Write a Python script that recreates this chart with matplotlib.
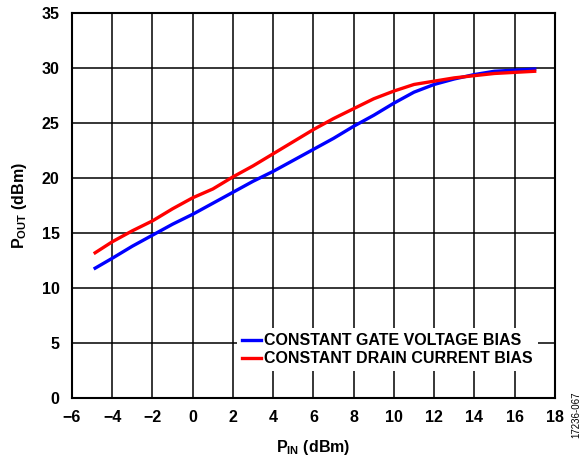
import numpy as np
import matplotlib
import matplotlib.pyplot as plt

matplotlib.use('Agg')

plt.rcParams['font.family'] = ['Liberation Sans', 'DejaVu Sans']
plt.rcParams['font.weight'] = 'bold'
plt.rcParams['mathtext.fontset'] = 'custom'
plt.rcParams['mathtext.rm'] = 'Liberation Sans:bold'
plt.rcParams['mathtext.bf'] = 'Liberation Sans:bold'
plt.rcParams['mathtext.it'] = 'Liberation Sans:bold'

# PIN (dBm) sweep points
pin = [-4.85, -4, -3, -2, -1, 0, 1, 2, 3, 4, 5, 6, 7, 8, 9, 10, 11, 12, 13, 14, 15, 16, 17]
# POUT for constant gate voltage bias
pout_gate = [11.8, 12.7, 13.8, 14.8, 15.8, 16.7, 17.7, 18.7, 19.7, 20.6, 21.6, 22.6, 23.6, 24.7, 25.7,
             26.8, 27.8, 28.5, 29.0, 29.4, 29.7, 29.8, 29.9]
# POUT for constant drain current bias
pout_drain = [13.2, 14.2, 15.2, 16.1, 17.2, 18.2, 19.0, 20.1, 21.1, 22.2, 23.3, 24.4, 25.4, 26.3, 27.2,
              27.9, 28.5, 28.8, 29.1, 29.3, 29.5, 29.6, 29.7]

fig = plt.figure(figsize=(5.84, 4.63), dpi=100)
ax = fig.add_axes([0.1233, 0.1404, 0.8267, 0.8316])

ax.plot(pin, pout_gate, color='#0000ff', linewidth=2.4, label='CONSTANT GATE VOLTAGE BIAS')
ax.plot(pin, pout_drain, color='#ff0000', linewidth=2.4, label='CONSTANT DRAIN CURRENT BIAS')

ax.set_xlim(-6, 18)
ax.set_ylim(0, 35)
ax.set_xticks(np.arange(-6, 19, 2))
ax.set_yticks(np.arange(0, 36, 5))
ax.grid(True, color='black', linewidth=1.1)
ax.set_axisbelow(True)
for s in ax.spines.values():
    s.set_linewidth(1.5)
ax.tick_params(length=0, labelsize=11.5, pad=9)

ax.set_xlabel(r'P$_{\mathrm{IN}}$ (dBm)', fontsize=11.5, fontweight='bold', labelpad=9)
ax.set_ylabel(r'P$_{\mathrm{OUT}}$ (dBm)', fontsize=11.5, fontweight='bold', labelpad=9)

leg = ax.legend(loc='center', bbox_to_anchor=(0.653, 0.125), frameon=True, fontsize=11.5,
                handlelength=1.2, handletextpad=0.2, borderpad=0.3, labelspacing=0.2,
                borderaxespad=0)
leg.get_frame().set_edgecolor('none')
leg.get_frame().set_facecolor('white')
leg.get_frame().set_alpha(1)
leg.get_frame().set_boxstyle('square', pad=0)

fig.text(0.986, 0.055, '17236-067', rotation=90, fontsize=7, fontweight='normal', ha='center', va='bottom')

fig.savefig('out.png', dpi=100)
